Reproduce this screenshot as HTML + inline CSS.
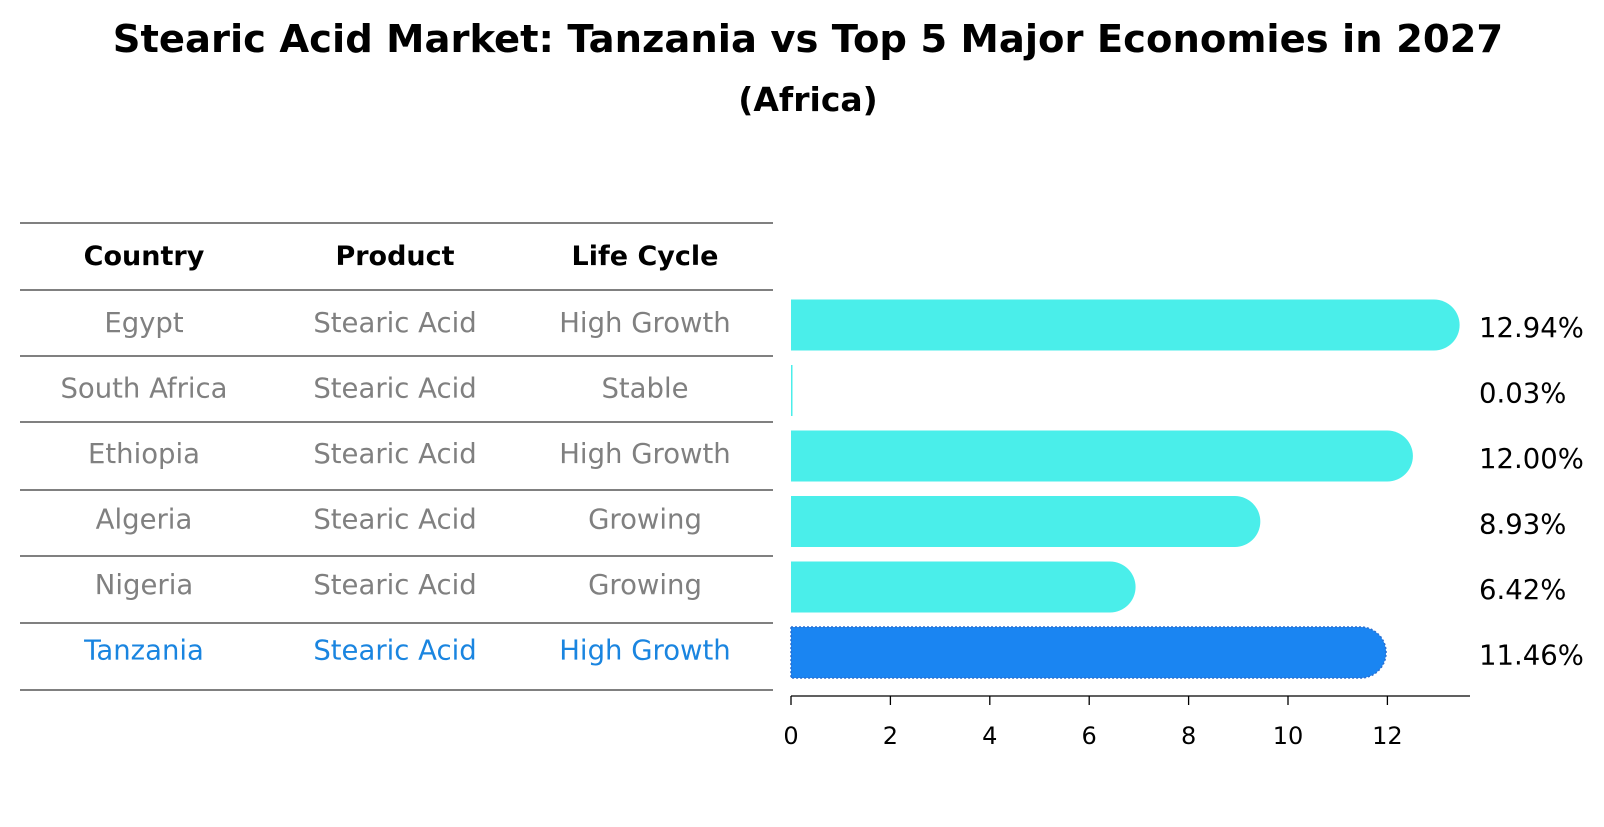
<!DOCTYPE html>
<html><head><meta charset="utf-8">
<style>
html,body{margin:0;padding:0;background:#fff;}
body{width:1604px;height:823px;overflow:hidden;font-family:"DejaVu Sans","Liberation Sans",sans-serif;}
</style></head>
<body>
<svg id="chart" width="1604" height="823" xmlns="http://www.w3.org/2000/svg" font-family="DejaVu Sans, Liberation Sans, sans-serif">
<text x="808" y="52" text-anchor="middle" font-size="38.5" font-weight="bold" fill="#000">Stearic Acid Market: Tanzania vs Top 5 Major Economies in 2027</text>
<text x="808" y="111" text-anchor="middle" font-size="33" font-weight="bold" fill="#000">(Africa)</text>
<g id="table"></g>
<g id="bars"></g>
</svg>
<script>
const countries = ["Egypt","South Africa","Ethiopia","Algeria","Nigeria","Tanzania"];
const products = ["Stearic Acid","Stearic Acid","Stearic Acid","Stearic Acid","Stearic Acid","Stearic Acid"];
const lifeCycles = ["High Growth","Stable","High Growth","Growing","Growing","High Growth"];
const values = [12.94,0.03,12.00,8.93,6.42,11.46];
const ticks = [0,2,4,6,8,10,12];
const headers = ["Country","Product","Life Cycle"];

const NS="http://www.w3.org/2000/svg";
const tbl=document.getElementById('table');
const bars=document.getElementById('bars');
function mk(tag,attrs,parent){const e=document.createElementNS(NS,tag);for(const k in attrs)e.setAttribute(k,attrs[k]);parent.appendChild(e);return e;}

const lineYs=[223,290,356,422,490,556,623,690];
const colX=[144,395,645];
lineYs.forEach((y)=>{
  const l=mk('line',{x1:20,x2:773,y1:y,y2:y,stroke:'#000','stroke-width':1.1},tbl);
  
  
});
headers.forEach((h,c)=>{
  const t=mk('text',{x:colX[c],y:265,'text-anchor':'middle','font-size':27,'font-weight':'bold',fill:'#000'},tbl);
  t.textContent=h;
  
  
});
function rowY(i){return 325+i*65.5;}
countries.forEach((cn,i)=>{
  const col = cn==="Tanzania" ? '#1a85e0' : '#808080';
  [cn,products[i],lifeCycles[i]].forEach((txt,c)=>{
    const t=mk('text',{x:colX[c],y:rowY(i)+7,'text-anchor':'middle','font-size':27.5,fill:col},tbl);
    t.textContent=txt;
    
    
  });
});

const x0=791, ppu=49.7;
function xs(v){return x0+v*ppu;}
const bh=51, r=25.5;
values.forEach((v,i)=>{
  const cy=rowY(i);
  const isT=countries[i]==="Tanzania";
  const fill=isT?'#1a85f2':'#4aeeea';
  const w=xs(v)-x0;
  let b;
  if(w<3){
    b=mk('rect',{x:x0,y:cy-bh/2,width:Math.max(w,1.5),height:bh,fill:fill},bars);
  } else {
    const xe=xs(v);
    const d=`M${x0},${cy-bh/2} L${xe},${cy-bh/2} A${r},${r} 0 0 1 ${xe},${cy+bh/2} L${x0},${cy+bh/2} Z`;
    b=mk('path',{d:d,fill:fill},bars);
    if(isT){b.setAttribute('stroke','#2a6fd0');b.setAttribute('stroke-width','1.5');b.setAttribute('stroke-dasharray','2,2');}
  }
  
  
  const t=mk('text',{x:1479,y:cy+12,'font-size':27.5,fill:'#000'},bars);
  t.textContent=v.toFixed(2)+'%';
  
  
});
const ax=mk('line',{x1:x0,x2:1470,y1:696,y2:696,stroke:'#000','stroke-width':1.3},bars);


ticks.forEach(t=>{
  const tk=mk('line',{x1:xs(t),x2:xs(t),y1:696,y2:705,stroke:'#000','stroke-width':1.3},bars);
  
  
  const tl=mk('text',{x:xs(t),y:744,'text-anchor':'middle','font-size':24,fill:'#000'},bars);
  tl.textContent=t;
  
  
});
</script>
</body></html>
